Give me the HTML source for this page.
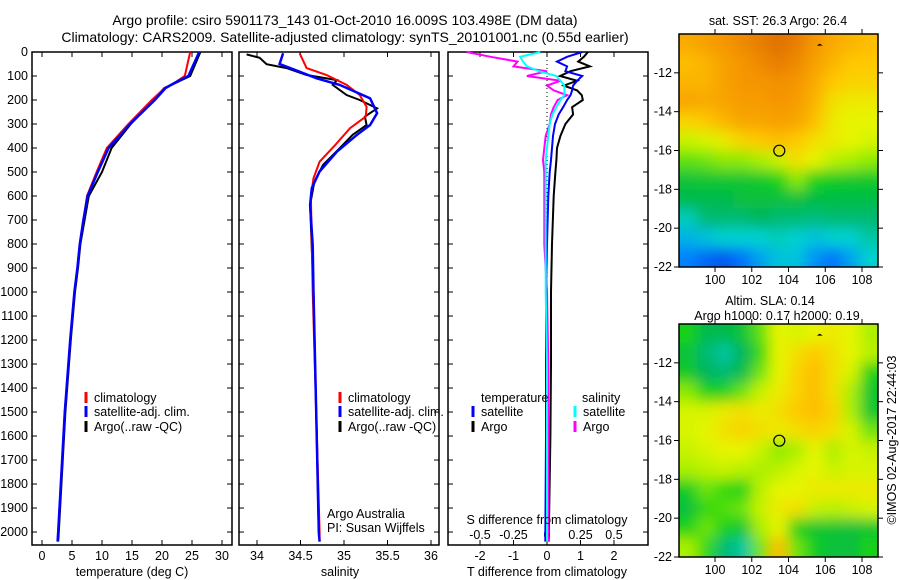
<!DOCTYPE html>
<html><head><meta charset="utf-8"><style>
body{margin:0;background:#fff;}
svg{display:block;font-family:"Liberation Sans",sans-serif;}
text{fill:#000;font-size:12.5px;}
</style></head><body>
<svg id="fig" width="900" height="580" viewBox="0 0 900 580" xmlns="http://www.w3.org/2000/svg">
<text x="345" y="25" text-anchor="middle" style="font-size:14px">Argo profile: csiro 5901173_143 01-Oct-2010 16.009S 103.498E (DM data)</text>
<text x="345" y="42" text-anchor="middle" style="font-size:14px">Climatology: CARS2009. Satellite-adjusted climatology: synTS_20101001.nc (0.55d earlier)</text>
<g id="g"></g>
</svg>
<script>
// ---- data ----
const tDepth=[0,100,125,150,200,300,400,500,600,700,800,900,1000,1200,1500,2000,2040];
const tClim=[24.7,23.8,22.3,20.5,18.3,14.4,10.8,9.1,7.5,6.9,6.3,5.9,5.4,4.7,3.8,2.7,2.6];
const tSat=[26.2,24.4,22.4,20.6,18.8,14.7,11.1,9.3,7.6,6.9,6.3,5.9,5.4,4.7,3.8,2.7,2.6];
const tArgo=[26.4,24.7,22.6,20.4,18.5,14.8,11.6,10.0,7.8,7.1,6.4,6.0,5.5,4.8,3.9,2.8,2.7];
const sClimD=[5,67,96,137,179,228,269,317,387,457,526,600,800,1000,1500,2000,2040];
const sClim=[34.49,34.57,34.80,35.03,35.18,35.26,35.25,35.07,34.90,34.72,34.65,34.62,34.63,34.64,34.68,34.72,34.72];
const sSatD=[5,50,67,110,137,193,255,304,345,415,498,567,637,804,1000,1500,2000,2040];
const sSat=[34.30,34.26,34.38,34.69,34.95,35.30,35.38,35.30,35.15,34.92,34.72,34.63,34.61,34.64,34.65,34.68,34.71,34.72];
const sArgoD=[10,24,51,67,96,117,137,179,200,235,269,304,345,401,470,540,637,1000,1500,2000];
const sArgo=[33.88,34.03,34.11,34.34,34.57,34.92,34.87,35.03,35.18,35.38,35.24,35.26,35.10,34.95,34.76,34.66,34.61,34.65,34.68,34.71];
const dDepth=[0,20,40,60,80,100,120,140,160,180,200,230,260,300,350,400,450,500,600,800,1000,1300,1600,2040];
const dTSat=[1.05,0.6,0.3,0.6,0.55,1.05,0.9,0.78,0.75,0.7,0.6,0.48,0.35,0.24,0.18,0.15,0.12,0.08,0.04,0.0,-0.03,-0.03,-0.03,-0.05];
const dTArgo=[1.22,1.1,0.93,1.28,0.7,0.39,0.9,0.5,0.9,1.04,1.07,0.75,0.78,0.55,0.4,0.3,0.28,0.25,0.2,0.15,0.12,0.12,0.1,0.05];
const dSSat=[-0.05,-0.2,-0.18,-0.15,-0.06,0.07,0.1,0.13,0.13,0.13,0.1,0.07,0.04,0.02,0.01,0.0,-0.01,-0.01,-0.01,-0.01,-0.01,0.0,0.0,0.0];
const dSArgo=[-0.6,-0.42,-0.22,-0.25,0.0,-0.15,0.1,0.0,0.05,0.15,0.08,0.05,0.03,0.02,-0.01,-0.02,-0.03,-0.02,-0.02,-0.02,0.0,0.01,0.01,0.01];
const depthTicks=[0,100,200,300,400,500,600,700,800,900,1000,1100,1200,1300,1400,1500,1600,1700,1800,1900,2000];
const tTicks=[0,5,10,15,20,25,30];
const sTicks=[34,34.5,35,35.5,36];
const sTickLabels=["34","34.5","35","35.5","36"];
const dTTicks=[-2,-1,0,1,2];
const dSTicks=[-0.5,-0.25,0,0.25,0.5];
const lonTicks=[100,102,104,106,108];
const latTicks=[-12,-14,-16,-18,-20,-22];
const sstGrid=[
[.82,.84,.86,.88,.9,.92,.9,.86,.82,.8,.78],
[.78,.8,.84,.86,.88,.9,.88,.84,.8,.76,.76],
[.8,.8,.84,.86,.86,.87,.86,.82,.76,.74,.74],
[.83,.82,.83,.85,.85,.86,.85,.8,.72,.7,.7],
[.74,.76,.8,.83,.83,.84,.83,.78,.7,.68,.68],
[.64,.66,.7,.74,.76,.78,.76,.72,.7,.68,.66],
[.55,.56,.58,.58,.6,.64,.72,.68,.62,.6,.58],
[.45,.46,.46,.46,.47,.5,.58,.5,.48,.47,.47],
[.42,.42,.42,.44,.44,.44,.44,.43,.43,.43,.43],
[.32,.38,.38,.38,.4,.38,.38,.37,.38,.38,.38],
[.26,.28,.3,.3,.3,.32,.3,.28,.3,.3,.34],
[.2,.16,.14,.18,.24,.28,.28,.22,.18,.24,.3]];
const slaGrid=[
[.5,.42,.42,.45,.55,.68,.66,.68,.7,.68,.6],
[.45,.38,.34,.4,.52,.68,.72,.76,.72,.68,.62],
[.47,.4,.38,.42,.56,.68,.74,.78,.72,.66,.5],
[.58,.5,.5,.56,.64,.7,.74,.78,.72,.6,.46],
[.66,.66,.7,.72,.7,.72,.76,.78,.74,.6,.46],
[.66,.68,.72,.74,.72,.7,.72,.74,.72,.66,.56],
[.64,.66,.68,.68,.64,.58,.6,.68,.6,.66,.64],
[.6,.62,.64,.62,.6,.62,.66,.68,.64,.66,.66],
[.48,.56,.52,.5,.62,.68,.68,.7,.7,.7,.7],
[.44,.52,.54,.56,.64,.7,.72,.64,.62,.64,.66],
[.5,.56,.5,.46,.6,.68,.5,.46,.46,.44,.46],
[.6,.52,.38,.34,.56,.78,.56,.48,.44,.44,.5]];
const argoLon=103.498, argoLat=-16.009;

// ---- helpers ----
const NS="http://www.w3.org/2000/svg";
const G=document.getElementById('g');
function el(tag,attrs,parent){const e=document.createElementNS(NS,tag);for(const k in attrs)e.setAttribute(k,attrs[k]);(parent||G).appendChild(e);return e;}
function txt(s,x,y,anchor,name,extra){const t=el('text',Object.assign({x:x,y:y,'text-anchor':anchor||'start'},extra||{}));t.textContent=s;


return t;}
const Y0=52,Y1=545,DMAX=2054;
const yD=d=>Y0+d*(Y1-Y0)/DMAX;
function panel(x0,x1,name){
 const r=el('rect',{x:x0,y:Y0,width:x1-x0,height:Y1-Y0,fill:'none',stroke:'#000','stroke-width':1.5});
 
 
 depthTicks.forEach(d=>{el('line',{x1:x0,x2:x0+5,y1:yD(d),y2:yD(d),stroke:'#000'});el('line',{x1:x1,x2:x1-5,y1:yD(d),y2:yD(d),stroke:'#000'});});
}
function line(xs,ds,xf,color,w,name){
 const pts=xs.map((v,i)=>xf(v).toFixed(1)+','+yD(ds[i]).toFixed(1)).join(' ');
 const p=el('polyline',{points:pts,fill:'none',stroke:color,'stroke-width':w});
 
 
}
function legend(x,y,color,label,name){
 el('line',{x1:x,x2:x,y1:y-10,y2:y+1,stroke:color,'stroke-width':3});
 txt(label,x+8,y,'start',name);
}
// ---- panel 1: temperature ----
const xT=v=>42+v*6;
panel(32,232,'temperature-panel');
depthTicks.forEach(d=>txt(String(d),28,yD(d)+4,'end','depth-tick-label'));
tTicks.forEach(v=>{el('line',{x1:xT(v),x2:xT(v),y1:Y1,y2:Y1-5,stroke:'#000'});el('line',{x1:xT(v),x2:xT(v),y1:Y0,y2:Y0+5,stroke:'#000'});txt(String(v),xT(v),560,'middle','temp-tick-label');});
line(tArgo,tDepth,xT,'#000',2,'temp-argo-line');
line(tClim,tDepth,xT,'#f00',2,'temp-climatology-line');
line(tSat,tDepth,xT,'#00f',2.5,'temp-satellite-line');
txt('temperature (deg C)',132,576,'middle','x-axis-title-temperature');
legend(86,402,'#f00','climatology','legend-climatology');
legend(86,416,'#00f','satellite-adj. clim.','legend-satellite');
legend(86,431,'#000','Argo(..raw -QC)','legend-argo');
// ---- panel 2: salinity ----
const xS=v=>257+(v-34)*87;
panel(239,439,'salinity-panel');
sTicks.forEach((v,i)=>{el('line',{x1:xS(v),x2:xS(v),y1:Y1,y2:Y1-5,stroke:'#000'});el('line',{x1:xS(v),x2:xS(v),y1:Y0,y2:Y0+5,stroke:'#000'});txt(sTickLabels[i],xS(v),560,'middle','salinity-tick-label');});
line(sArgo,sArgoD,xS,'#000',2,'salinity-argo-line');
line(sClim,sClimD,xS,'#f00',2,'salinity-climatology-line');
line(sSat,sSatD,xS,'#00f',2.5,'salinity-satellite-line');
txt('salinity',340,576,'middle','x-axis-title-salinity');
legend(340,402,'#f00','climatology','legend-climatology-2');
legend(340,416,'#00f','satellite-adj. clim.','legend-satellite-2');
legend(340,431,'#000','Argo(..raw -QC)','legend-argo-2');
txt('Argo Australia',327,518,'start','credit-argo-australia');
txt('PI: Susan Wijffels',327,532,'start','credit-pi');
// ---- panel 3: differences ----
const xDT=v=>547+v*33.5;
const xDS=v=>547+v*134;
panel(448,648,'difference-panel');
el('line',{x1:547,x2:547,y1:Y0,y2:Y1,stroke:'#000','stroke-dasharray':'1,3'});
dTTicks.forEach(v=>{el('line',{x1:xDT(v),x2:xDT(v),y1:Y1,y2:Y1-5,stroke:'#000'});el('line',{x1:xDT(v),x2:xDT(v),y1:Y0,y2:Y0+5,stroke:'#000'});txt(String(v),xDT(v),560,'middle','t-diff-tick-label');});
dSTicks.forEach(v=>txt(String(v),xDS(v),539,'middle','s-diff-tick-label'));
line(dTArgo,dDepth,xDT,'#000',2,'t-diff-argo-line');
line(dTSat,dDepth,xDT,'#00f',2,'t-diff-satellite-line');
line(dSArgo,dDepth,xDS,'#f0f',2,'s-diff-argo-line');
line(dSSat,dDepth,xDS,'#0ff',2,'s-diff-satellite-line');
txt('T difference from climatology',547,576,'middle','x-axis-title-t-diff');
txt('S difference from climatology',547,524,'middle','x-axis-title-s-diff');
txt('temperature',481,402,'start','legend-temperature-header');
legend(473,416,'#00f','satellite','legend-t-satellite');
legend(473,431,'#000','Argo','legend-t-argo');
txt('salinity',582,402,'start','legend-salinity-header');
legend(575,416,'#0ff','satellite','legend-s-satellite');
legend(575,431,'#f0f','Argo','legend-s-argo');
// ---- maps ----
const stops=[[0.1,[0,60,230]],[0.2,[0,130,255]],[0.3,[0,210,210]],[0.4,[0,180,90]],[0.5,[20,210,20]],[0.6,[170,240,0]],[0.68,[230,245,0]],[0.76,[255,200,0]],[0.86,[245,150,0]],[0.95,[215,95,0]]];
function cmap(v){if(v<=stops[0][0])return 'rgb('+stops[0][1]+')';for(let i=1;i<stops.length;i++){if(v<=stops[i][0]){const a=stops[i-1],b=stops[i],t=(v-a[0])/(b[0]-a[0]);return 'rgb('+a[1].map((c,k)=>Math.round(c+(b[1][k]-c)*t)).join(',')+')';}}return 'rgb('+stops[stops.length-1][1]+')';}
const defs=el('defs',{});
const flt=el('filter',{id:'blur',x:'-5%',y:'-5%',width:'110%',height:'110%'},defs);
el('feGaussianBlur',{stdDeviation:7},flt);
function map(top,grid,name,id){
 const x0=679,x1=878,bottom=top+233;
 const lonF=v=>x0+(v-98.04)*(x1-x0)/(108.87-98.04);
 const latF=v=>top+(-10-v)*(bottom-top)/12;
 const cp=el('clipPath',{id:id},defs);el('rect',{x:x0,y:top,width:x1-x0,height:bottom-top},cp);
 const g=el('g',{'clip-path':'url(#'+id+')'});
 
 
 const gi=el('g',{filter:'url(#blur)'},g);
 const nr=grid.length,nc=grid[0].length,cw=(x1-x0)/nc,ch=(bottom-top)/nr;
 el('rect',{x:x0-20,y:top-20,width:x1-x0+40,height:bottom-top+40,fill:cmap(grid[0][0])},gi);
 grid.forEach((row,r)=>row.forEach((v,c)=>{
  let w=cw+1,h=ch+1,xx=x0+c*cw,yy=top+r*ch;
  if(c==0){xx-=15;w+=15;} if(c==nc-1)w+=15; if(r==0){yy-=15;h+=15;} if(r==nr-1)h+=15;
  el('rect',{x:xx,y:yy,width:w,height:h,fill:cmap(v)},gi);}));
 el('rect',{x:x0,y:top,width:x1-x0,height:bottom-top,fill:'none',stroke:'#000','stroke-width':1.5});
 lonTicks.forEach(v=>{el('line',{x1:lonF(v),x2:lonF(v),y1:bottom,y2:bottom+5,stroke:'#000'});el('line',{x1:lonF(v),x2:lonF(v),y1:top,y2:top-5,stroke:'#000'});txt(String(v),lonF(v),bottom+17,'middle','map-lon-tick-label');});
 latTicks.forEach(v=>{el('line',{x1:x0,x2:x0-5,y1:latF(v),y2:latF(v),stroke:'#000'});el('line',{x1:x1,x2:x1+5,y1:latF(v),y2:latF(v),stroke:'#000'});txt(String(v),672,latF(v)+4,'end','map-lat-tick-label');});
 const c=el('circle',{cx:lonF(argoLon),cy:latF(argoLat),r:5.5,fill:'none',stroke:'#000','stroke-width':1.2});
 
 
 el('path',{d:'M'+(lonF(105.7)-3)+' '+(latF(-10.6))+' l3 -2 l3 2 z',fill:'#000'});
}
map(34,sstGrid,'sst-map','c1');
map(324,slaGrid,'sla-map','c2');
txt('sat. SST: 26.3 Argo: 26.4',778,25,'middle','sst-map-title');
txt('Altim. SLA: 0.14',770,305,'middle','sla-map-title-1');
txt('Argo h1000: 0.17 h2000: 0.19',777,320,'middle','sla-map-title-2');
txt('©IMOS 02-Aug-2017 22:44:03',896,440,'middle','timestamp',{transform:'rotate(-90 896 440)'});
</script>
</body></html>
